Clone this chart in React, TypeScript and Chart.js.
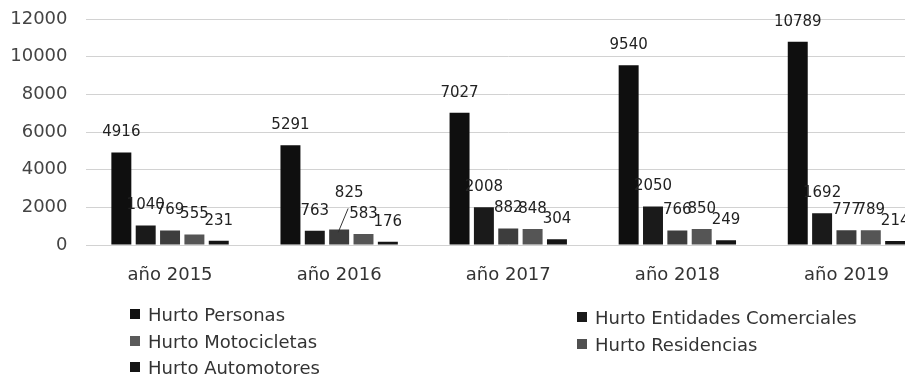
import React, { useEffect, useRef } from "react";
import { Chart, registerables } from "chart.js";

Chart.register(...registerables);

// ---- Data ----
const categories = ["año 2015", "año 2016", "año 2017", "año 2018", "año 2019"];
const seriesNames = [
  "Hurto Personas",
  "Hurto Entidades Comerciales",
  "Hurto Motocicletas",
  "Hurto Residencias",
  "Hurto Automotores",
];
const hurtoPersonas = [4916, 5291, 7027, 9540, 10789];
const hurtoEntidades = [1040, 763, 2008, 2050, 1692];
const hurtoMotocicletas = [769, 825, 882, 766, 777];
const hurtoResidencias = [555, 583, 848, 850, 789];
const hurtoAutomotores = [231, 176, 304, 249, 214];
const yTicks = [0, 2000, 4000, 6000, 8000, 10000, 12000];

// ---- Styles ----
const seriesColors = ["#0f0f0f", "#1a1a1a", "#3d3d3d", "#555555", "#151515"];
const legendColors = ["#111111", "#1a1a1a", "#5a5a5a", "#505050", "#151515"];
const FONT = "'DejaVu Sans', sans-serif";

// label nudges: key "datasetIndex:index" -> extra offset with leader line
const LABEL_NUDGES: Record<string, { dx: number; dy: number }> = {
  "2:1": { dx: 10, dy: 16 },
};

const valueLabels = {
  id: "valueLabels",
  afterDatasetsDraw(chart: any) {
    const ctx = chart.ctx as CanvasRenderingContext2D;
    ctx.save();
    ctx.font = `15px ${FONT}`;
    ctx.fillStyle = "#222";
    ctx.textAlign = "center";
    ctx.textBaseline = "middle";
    chart.data.datasets.forEach((ds: any, di: number) => {
      const meta = chart.getDatasetMeta(di);
      meta.data.forEach((bar: any, i: number) => {
        const v = ds.data[i];
        let x = bar.x;
        let y = bar.y - 20;
        const n = LABEL_NUDGES[`${di}:${i}`];
        if (n) {
          ctx.strokeStyle = "#333";
          ctx.lineWidth = 1;
          ctx.beginPath();
          ctx.moveTo(bar.x - 1, bar.y + 3);
          ctx.lineTo(bar.x + n.dx - 1, bar.y - 21);
          ctx.stroke();
          x += n.dx;
          y -= n.dy;
        }
        ctx.fillText(String(v), x, y);
      });
    });
    ctx.restore();
  },
};

const CANVAS_W = 935;
const CANVAS_H = 376;

export default function App() {
  const canvasRef = useRef<HTMLCanvasElement | null>(null);

  useEffect(() => {
    if (!canvasRef.current) return;
    const seriesData = [
      hurtoPersonas,
      hurtoEntidades,
      hurtoMotocicletas,
      hurtoResidencias,
      hurtoAutomotores,
    ];
    const chart = new Chart(canvasRef.current, {
      type: "bar",
      data: {
        labels: categories,
        datasets: seriesNames.map((name, k) => ({
          label: name,
          data: seriesData[k],
          backgroundColor: seriesColors[k],
          borderWidth: 0,
          categoryPercentage: 0.72,
          barPercentage: 0.82,
        })),
      },
      options: {
        responsive: false,
        animation: false,
        layout: { padding: { left: 10, right: 4, top: 19, bottom: 89 } },
        plugins: {
          legend: { display: false },
          tooltip: { enabled: false },
          title: { display: false },
        },
        scales: {
          x: {
            grid: { display: false, drawTicks: false },
            border: { display: false },
            ticks: {
              color: "#333",
              font: { family: FONT, size: 18 },
              padding: 20,
              maxRotation: 0,
              autoSkip: false,
            },
            afterFit: (s: any) => {
              s.height = 42;
              s.paddingLeft = 0;
              s.paddingRight = 0;
              s.paddingTop = 0;
              s.paddingBottom = 0;
            },
          },
          y: {
            min: 0,
            max: 12000,
            afterBuildTicks: (axis: any) => {
              axis.ticks = yTicks.map((v) => ({ value: v }));
            },
            grid: { color: "#d2d2d2", lineWidth: 1, drawTicks: false },
            border: { display: false },
            ticks: {
              color: "#444",
              font: { family: FONT, size: 18 },
              padding: 18,
              callback: (v: any) => String(v),
            },
            afterFit: (s: any) => {
              s.width = 75.5;
              s.paddingTop = 0;
              s.paddingBottom = 0;
              s.paddingLeft = 0;
              s.paddingRight = 0;
            },
          },
        },
      },
      plugins: [valueLabels],
    });
    return () => chart.destroy();
  }, []);

  const legendLeft = [
    { k: 0, top: 314 },
    { k: 2, top: 341 },
    { k: 4, top: 367 },
  ];
  const legendRight = [
    { k: 1, top: 317 },
    { k: 3, top: 344 },
  ];
  const item = (k: number, top: number, left: number) => (
    <div
      key={k}
      style={{
        position: "absolute",
        left,
        top: top - 11,
        height: 22,
        display: "flex",
        alignItems: "center",
        whiteSpace: "nowrap",
        fontFamily: FONT,
        fontSize: 18,
        color: "#333",
      }}
    >
      <span
        style={{
          display: "inline-block",
          width: 10,
          height: 10,
          background: legendColors[k],
          marginRight: 8,
        }}
      />
      <span>{seriesNames[k]}</span>
    </div>
  );

  return (
    <div
      style={{
        position: "fixed",
        left: 0,
        top: 0,
        width: 905,
        height: 376,
        overflow: "hidden",
        background: "#fff",
      }}
    >
      <canvas
        ref={canvasRef}
        width={CANVAS_W}
        height={CANVAS_H}
        style={{ position: "absolute", left: 0, top: 0, width: CANVAS_W, height: CANVAS_H }}
      />
      {legendLeft.map((e) => item(e.k, e.top, 130))}
      {legendRight.map((e) => item(e.k, e.top, 577))}
    </div>
  );
}
